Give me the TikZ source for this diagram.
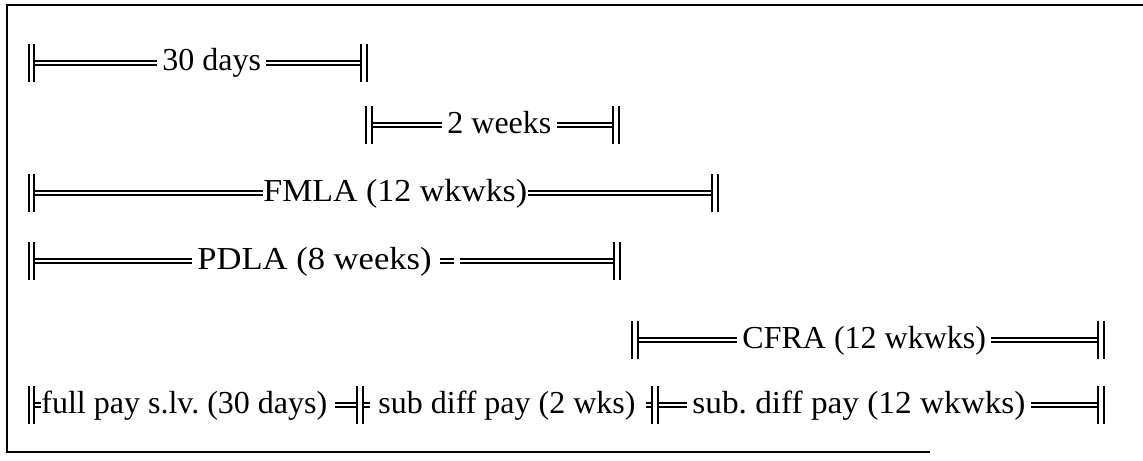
\documentclass[tikz,border=0pt]{standalone}
\usepackage{fontspec}
\setmainfont{Liberation Serif}
\frenchspacing
\newcommand\vbar[2]{\draw[barl] (#1,#2-19) -- (#1,#2+19);}
\begin{document}
\begin{tikzpicture}[x=0.5pt,y=-0.5pt,
  dl/.style={double, line width=0.85pt, double distance=1pt},
  barl/.style={line width=1.25pt},
  lbl/.style={inner sep=0pt, anchor=base west, font=\fontsize{16}{19}\selectfont},
  frame/.style={line width=1pt}]
\useasboundingbox (0,0) rectangle (1143,460);
% frame
\draw[frame] (1143,5) -- (7,5) -- (7,452) -- (930,452);

% row 1 : 30 days
\coordinate (a1) at (34,63);
\coordinate (b1) at (361,63);
\node[lbl] (t1) at (162,71) {30 days};
\draw[dl] (a1) -- ([xshift=-2.5pt]t1.west |- a1);
\draw[dl] ([xshift=2.5pt]t1.east |- b1) -- (b1);
\vbar{29}{63}\vbar{34}{63}\vbar{361}{63}\vbar{367}{63}

% row 2 : 2 weeks
\coordinate (a2) at (372,125);
\coordinate (b2) at (613,125);
\node[lbl] (t2) at (447,133) {2 weeks};
\draw[dl] (a2) -- ([xshift=-2.5pt]t2.west |- a2);
\draw[dl] ([xshift=2.5pt]t2.east |- b2) -- (b2);
\vbar{366}{125}\vbar{372}{125}\vbar{613}{125}\vbar{619}{125}

% row 3 : FMLA
\coordinate (a3) at (34,193);
\coordinate (b3) at (712,193);
\node[lbl] (t3) at (263,201) {\scalebox{1.06}[1]{FMLA (12 wkwks)}};
\draw[dl] (a3) -- (t3.west |- a3);
\draw[dl] (t3.east |- b3) -- (b3);
\vbar{29}{193}\vbar{34}{193}\vbar{712}{193}\vbar{718}{193}

% row 4 : PDLA
\coordinate (a4) at (34,261);
\coordinate (b4) at (614,261);
\node[lbl] (t4) at (197,269) {\scalebox{1.08}[1]{PDLA (8 weeks)}};
\coordinate (e4a) at ([xshift=4pt]t4.east |- a4);
\coordinate (e4b) at ([xshift=11pt]t4.east |- a4);
\coordinate (e4c) at ([xshift=14pt]t4.east |- a4);
\draw[dl] (a4) -- ([xshift=-2.5pt]t4.west |- a4);
\draw[dl] (e4a) -- (e4b);
\draw[dl] (e4c) -- (b4);
\vbar{29}{261}\vbar{34}{261}\vbar{614}{261}\vbar{620}{261}

% row 5 : CFRA
\coordinate (a5) at (638,340);
\coordinate (b5) at (1098,340);
\node[lbl] (t5) at (742,348) {CFRA (12 wkwks)};
\draw[dl] (a5) -- ([xshift=-2.5pt]t5.west |- a5);
\draw[dl] ([xshift=2.5pt]t5.east |- b5) -- (b5);
\vbar{632}{340}\vbar{638}{340}\vbar{1098}{340}\vbar{1104}{340}

% row 6 : pay
\coordinate (a6) at (34,405);
\coordinate (j1a) at (357,405);
\coordinate (j1b) at (363,405);
\coordinate (j2a) at (652,405);
\coordinate (j2b) at (658,405);
\coordinate (b6) at (1098,405);
\node[lbl] (t61) at (41,413) {full pay s.lv. (30 days)};
\node[lbl] (t62) at (378,413) {sub diff pay (2 wks)};
\node[lbl] (t63) at (692,413) {\scalebox{1.04}[1]{sub. diff pay (12 wkwks)}};
\draw[dl] (a6) -- (t61.west |- a6);
\draw[dl] ([xshift=3.5pt]t61.east |- j1a) -- (j1a);
\draw[dl] (j1b) -- ([xshift=3.5pt]j1b);
\draw[dl] ([xshift=-3pt]j2a) -- (j2a);
\draw[dl] (j2b) -- ([xshift=-2.5pt]t63.west |- j2b);
\draw[dl] ([xshift=2.5pt]t63.east |- b6) -- (b6);
\vbar{29}{405}\vbar{34}{405}\vbar{357}{405}\vbar{363}{405}
\vbar{652}{405}\vbar{658}{405}\vbar{1098}{405}\vbar{1104}{405}
\end{tikzpicture}
\end{document}
